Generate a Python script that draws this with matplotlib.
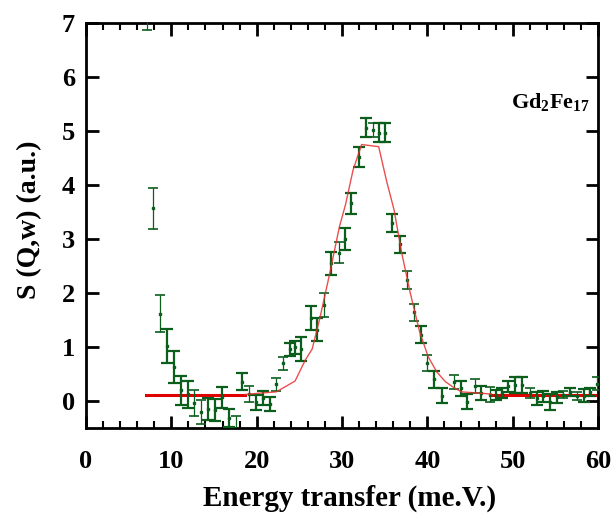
import matplotlib
matplotlib.use('Agg')
import matplotlib.pyplot as plt
from matplotlib.ticker import MultipleLocator

# ---------------- data ----------------
# dataset drawn with heavy error bars
thick_x = [9.45, 10.3, 11.1, 11.95, 14.3, 15.1, 15.9, 16.8, 18.3, 19.9, 20.7, 21.6,
           23.9, 24.5, 25.2, 26.4, 27.1, 28.7, 30.4, 31.1, 32.0, 32.8, 34.3, 35.0,
           35.9, 36.8, 39.2, 40.8, 41.7, 43.9, 44.7, 46.3, 48.0, 48.7, 49.5, 50.3,
           51.1, 52.8, 53.5, 54.4, 55.2, 56.7, 58.4, 59.1]
thick_y = [1.02, 0.63, 0.20, 0.13, -0.15, -0.17, 0.07, -0.31, 0.36, -0.02, 0.05, -0.06,
           0.96, 1.00, 0.97, 1.54, 1.32, 2.55, 3.00, 3.66, 4.52, 5.06, 4.97, 4.97,
           3.30, 2.90, 1.23, 0.40, 0.10, 0.24, -0.01, 0.15, 0.11, 0.15, 0.27, 0.30,
           0.30, 0.05, 0.09, -0.02, 0.07, 0.17, 0.10, 0.17]
thick_err = [0.31, 0.29, 0.27, 0.25, 0.21, 0.20, 0.19, 0.17, 0.16, 0.14, 0.13, 0.13,
             0.12, 0.12, 0.22, 0.22, 0.21, 0.21, 0.20, 0.20, 0.19, 0.18, 0.17, 0.17,
             0.17, 0.16, 0.15, 0.15, 0.14, 0.14, 0.14, 0.13, 0.10, 0.10, 0.11, 0.15,
             0.15, 0.12, 0.10, 0.15, 0.10, 0.08, 0.12, 0.08]

# dataset drawn with light error bars
thin_x = [7.1, 7.9, 8.7, 12.7, 13.5, 17.6, 19.1, 22.3, 23.1, 27.9, 29.6, 33.6,
          37.6, 38.4, 40.0, 43.1, 45.6, 47.3, 52.0, 55.9, 57.5, 59.9]
thin_y = [7.22, 3.57, 1.62, -0.04, -0.21, -0.55, 0.13, 0.31, 0.70, 1.78, 2.75, 5.02,
          2.24, 1.64, 0.70, 0.36, 0.27, 0.12, 0.15, 0.12, 0.09, 0.32]
thin_err = [0.35, 0.38, 0.34, 0.24, 0.22, 0.27, 0.14, 0.12, 0.12, 0.22, 0.20, 0.13,
            0.16, 0.16, 0.15, 0.13, 0.13, 0.14, 0.10, 0.07, 0.07, 0.12]

# fitted curve
fit_x = [18.6, 19.2, 22.3, 24.5, 25.7, 26.5, 27.4, 28.6, 29.7, 30.4, 31.3, 32.3,
         34.3, 35.2, 36.1, 37.0, 38.0, 39.1, 40.1, 41.1, 42.1, 43.0, 44.0, 47.5]
fit_y = [0.12, 0.13, 0.17, 0.37, 0.76, 0.96, 1.53, 2.39, 3.23, 3.63, 4.28, 4.75,
         4.71, 4.09, 3.54, 2.74, 2.00, 1.28, 0.82, 0.54, 0.36, 0.26, 0.17, 0.13]

# flat background level
bg_low_x = [7.0, 18.6]
bg_high_x = [47.5, 60.0]
bg_level = 0.12

x_ticks = [0, 10, 20, 30, 40, 50, 60]
y_ticks = [0, 1, 2, 3, 4, 5, 6, 7]

# ---------------- style ----------------
plt.rcParams['font.family'] = ['Liberation Serif', 'DejaVu Serif']
plt.rcParams['font.weight'] = 'bold'
plt.rcParams['mathtext.fontset'] = 'custom'
plt.rcParams['mathtext.rm'] = 'Liberation Serif:bold'
plt.rcParams['mathtext.bf'] = 'Liberation Serif:bold'
plt.rcParams['mathtext.it'] = 'Liberation Serif:bold'

green = '#0b5e1c'
red = '#e00000'

fig = plt.figure(figsize=(6.16, 5.16), dpi=100)
ax = fig.add_axes([0.1396, 0.1705, 0.8312, 0.7849])

# background lines (heavy)
ax.plot(bg_low_x, [bg_level, bg_level], color=red, lw=2.2, zorder=2)
ax.plot(bg_high_x, [bg_level, bg_level], color=red, lw=2.2, zorder=2)
# fit line (thin)
ax.plot(fit_x, fit_y, color='#e83030', lw=1.0, alpha=0.85, zorder=4)

ax.errorbar(thick_x, thick_y, yerr=thick_err, fmt='s', ms=2, color=green,
            ecolor=green, elinewidth=1.6, capsize=4.6, capthick=1.6, zorder=3)
ax.errorbar(thin_x, thin_y, yerr=thin_err, fmt='s', ms=2, color=green,
            ecolor=green, elinewidth=0.9, capsize=3.6, capthick=1.2, zorder=3)

ax.set_xlim(0, 60)
ax.set_ylim(-0.5, 7)
ax.set_xticks(x_ticks)
ax.set_yticks(y_ticks)
ax.xaxis.set_minor_locator(MultipleLocator(2))

for s in ax.spines.values():
    s.set_linewidth(2)

ax.tick_params(axis='both', which='major', direction='in', top=True, right=True,
               length=9, width=2, labelsize=19)
ax.tick_params(axis='x', which='minor', direction='in', top=True, bottom=True,
               length=5, width=1.5)
ax.tick_params(axis='x', which='major', pad=16)
ax.tick_params(axis='y', which='major', pad=8)

for lab in ax.get_xticklabels() + ax.get_yticklabels():
    lab.set_fontweight('bold')

ax.set_xlabel('Energy transfer (me.V.)', fontsize=21, fontweight='bold', labelpad=0)
ax.xaxis.set_label_coords(0.515, -0.14)
ax.set_ylabel('S (Q,w) (a.u.)', fontsize=20, fontweight='bold')
ax.yaxis.set_label_coords(-0.086, 0.515)

ax.text(0.985, 0.805, r'$\mathbf{Gd_2Fe_{17}}$', transform=ax.transAxes,
        ha='right', va='center', fontsize=16)

fig.savefig('out.png', dpi=100)
